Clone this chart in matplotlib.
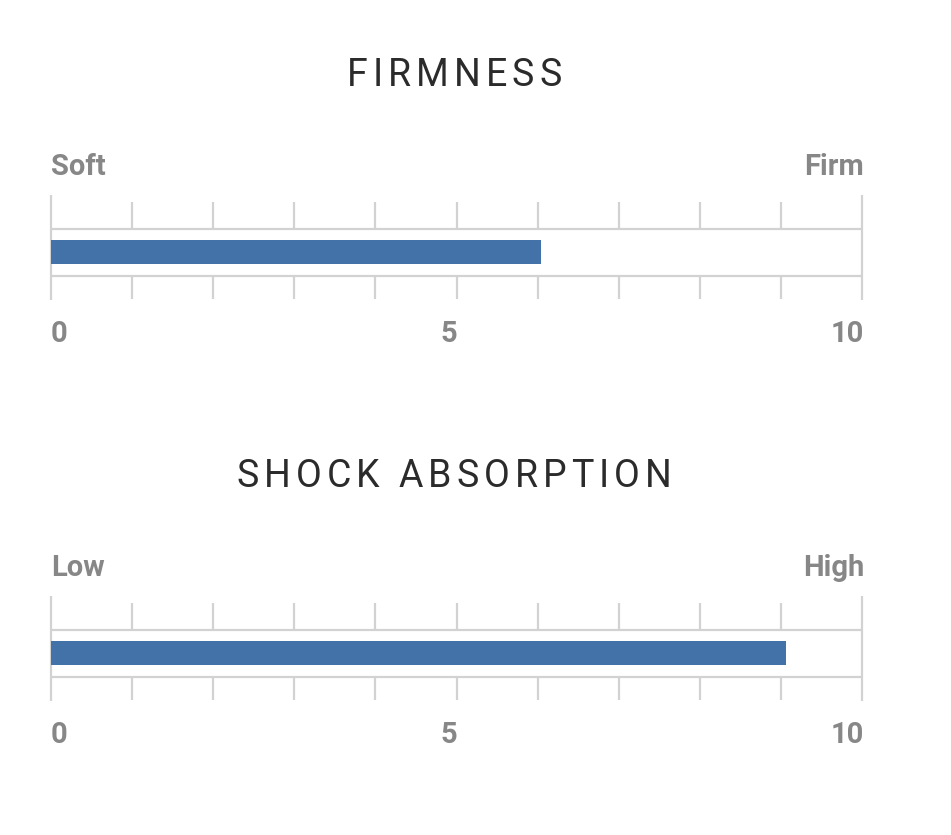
import matplotlib
matplotlib.use('Agg')
import matplotlib.pyplot as plt
import matplotlib.transforms as mtransforms
from matplotlib.transforms import IdentityTransform

# data
titles = ['FIRMNESS', 'SHOCK ABSORPTION']
low_labels = ['Soft', 'Low']
high_labels = ['Firm', 'High']
values = [6.04, 9.06]
scale_ticks = [0, 5, 10]

W, H = 951, 835
bar_color = '#4272a8'
line_color = '#d2d2d2'
label_color = '#878787'
title_color = '#2b2b2b'


def spaced_text(ax, x, y, s, gap, **kw):
    # matplotlib has no letter spacing, so place the letters one by one
    r = ax.figure.canvas.get_renderer()

    def width(txt):
        t = ax.text(0, 0, txt, **kw)
        w = t.get_window_extent(r).width
        t.remove()
        return w

    space_w = width('a a') - width('aa')
    widths = [space_w if ch == ' ' else width(ch) for ch in s]
    total = sum(widths) + gap * (len(s) - 1)
    cx, cy = ax.transData.transform((x, y))
    px = cx - total / 2
    for ch, w in zip(s, widths):
        if ch != ' ':
            ax.text(px, cy, ch, transform=IdentityTransform(), ha='left',
                    va='baseline', **kw)
        px += w + gap


fig = plt.figure(figsize=(W / 100, H / 100), dpi=100)

for i in range(len(titles)):
    off = 401 * i
    ax = fig.add_axes([51 / W, 1 - (300 + off) / H, 811 / W, 105 / H])
    ax.set_xlim(0, 10)
    ax.set_ylim(0, 105)
    ax.axis('off')

    # frame lines and ticks
    ax.hlines([24, 71], 0, 10, color=line_color, lw=1.6, clip_on=False)
    inner = list(range(1, 10))
    ax.vlines(inner, 1, 24, color=line_color, lw=1.6, clip_on=False)
    ax.vlines(inner, 71, 98, color=line_color, lw=1.6, clip_on=False)
    ax.vlines([0, 10], 0, 105, color=line_color, lw=1.6, clip_on=False)

    ax.barh(48, values[i], height=24, left=0, color=bar_color, zorder=3)

    lab = dict(color=label_color, fontsize=21, fontweight='bold',
               family='Roboto', va='baseline', clip_on=False)
    right = mtransforms.offset_copy(ax.transData, fig=fig, x=2, units='dots')
    ax.text(0, 125, low_labels[i], ha='left', **lab)
    ax.text(10, 125, high_labels[i], ha='right', transform=right, **lab)

    for v in scale_ticks:
        if v == 0:
            ax.text(v, -42, str(v), ha='left', **lab)
        elif v == 10:
            ax.text(v, -42, str(v), ha='right', transform=right, **lab)
        else:
            tr = mtransforms.offset_copy(ax.transData, fig=fig, x=-8, units='dots')
            ax.text(v, -42, str(v), ha='center', transform=tr, **lab)

    spaced_text(ax, 4.97, 214, titles[i], 5.0, color=title_color, fontsize=27,
                family='Roboto')

fig.savefig('out.png', dpi=100)
